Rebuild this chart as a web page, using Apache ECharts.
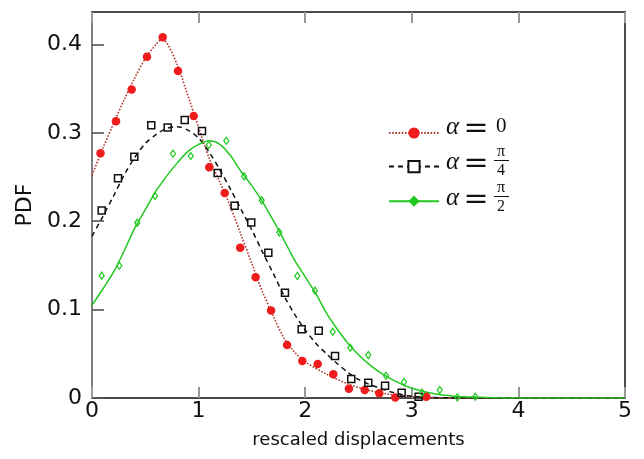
<!DOCTYPE html>
<html><head><meta charset="utf-8">
<script src="https://cdn.jsdelivr.net/npm/echarts@6/dist/echarts.min.js"></script>
<style>html,body{margin:0;padding:0;background:#fff}#c{width:644px;height:459px}</style>
</head><body><div id="c"></div>
<script>
// ---- data ----
const xTicks = [0, 1, 2, 3, 4, 5];
const yTicks = [0, 0.1, 0.2, 0.3, 0.4];

// simulation points
const redX = [0.08,0.225,0.372,0.516,0.663,0.807,0.954,1.10,1.245,1.39,1.535,1.68,1.83,1.973,2.117,2.264,2.41,2.558,2.695,2.845,3.136];
const redY = [0.277,0.313,0.349,0.386,0.408,0.370,0.319,0.261,0.232,0.170,0.1365,0.099,0.060,0.042,0.0385,0.027,0.0106,0.009,0.0053,0.0006,0.0015];

const blackX = [0.091,0.244,0.397,0.556,0.71,0.87,1.032,1.179,1.338,1.494,1.654,1.81,1.967,2.127,2.28,2.432,2.592,2.749,2.905,3.064];
const blackY = [0.212,0.2485,0.273,0.3085,0.306,0.3145,0.302,0.2545,0.2175,0.1986,0.1644,0.119,0.0777,0.0761,0.0475,0.0215,0.0173,0.0139,0.006,0.0015];

const greenX = [0.091,0.256,0.425,0.591,0.76,0.926,1.095,1.26,1.426,1.592,1.757,1.926,2.092,2.258,2.423,2.592,2.758,2.927,3.096,3.262,3.427,3.596];
const greenY = [0.1384,0.1497,0.1984,0.2285,0.2764,0.2738,0.2862,0.291,0.2508,0.2236,0.1874,0.138,0.1214,0.075,0.0569,0.0486,0.0252,0.0181,0.006,0.009,0.0008,0.0015];

// fitted curves
const redCurveX = [0,0.1,0.2,0.3,0.4,0.5,0.6,0.65,0.7,0.8,0.9,1.0,1.1,1.2,1.3,1.4,1.5,1.6,1.7,1.8,1.9,2.0,2.2,2.4,2.6,2.8,3.0,3.2,3.5,4,5];
const redCurveY = [0.252,0.282,0.310,0.337,0.362,0.384,0.400,0.405,0.402,0.377,0.342,0.306,0.271,0.244,0.216,0.184,0.152,0.120,0.093,0.068,0.052,0.041,0.027,0.016,0.0085,0.004,0.0015,0.0004,0,0,0];

const blackCurveX = [0,0.1,0.2,0.3,0.4,0.5,0.6,0.7,0.8,0.9,1.0,1.1,1.2,1.3,1.4,1.5,1.6,1.7,1.8,1.9,2.0,2.1,2.2,2.3,2.4,2.5,2.6,2.7,2.8,2.9,3.0,3.2,3.5,4,5];
const blackCurveY = [0.183,0.205,0.228,0.252,0.272,0.288,0.298,0.305,0.307,0.303,0.294,0.278,0.258,0.236,0.213,0.190,0.165,0.141,0.116,0.095,0.077,0.062,0.050,0.039,0.029,0.021,0.0155,0.011,0.007,0.004,0.002,0.0006,0,0,0];

const greenCurveX = [0,0.1,0.2,0.3,0.4,0.5,0.6,0.7,0.8,0.9,1.0,1.1,1.2,1.3,1.4,1.5,1.6,1.7,1.8,1.9,2.0,2.1,2.2,2.3,2.4,2.5,2.6,2.7,2.8,2.9,3.0,3.2,3.4,3.6,3.8,4.0,5.0];
const greenCurveY = [0.105,0.123,0.142,0.166,0.192,0.213,0.234,0.251,0.266,0.279,0.287,0.291,0.287,0.274,0.256,0.240,0.222,0.201,0.179,0.156,0.137,0.118,0.096,0.078,0.062,0.049,0.038,0.029,0.022,0.016,0.011,0.005,0.002,0.001,0.0003,0,0];

const seriesNames = ['a0', 'a4', 'a2'];

function pairs(xs, ys) { return xs.map((x, i) => [x, ys[i]]); }

const chart = echarts.init(document.getElementById('c'), null, {renderer: 'canvas'});
const RED = '#ee1c1c', REDLINE = '#b03a2e', GREEN = '#22c922';
const tickFont = {fontFamily: 'DejaVu Sans', fontSize: 22, color: '#111'};

const option = {
  animation: false,
  backgroundColor: '#fff',
  grid: {left: 92, right: 19, top: 12, bottom: 61},
  xAxis: [{
    type: 'value', min: 0, max: 5, interval: 1, position: 'bottom',
    axisLine: {show: true, onZero: false, lineStyle: {color: '#111', width: 1.5}},
    axisTick: {show: true, inside: true, length: 11, lineStyle: {color: '#999', width: 2}},
    axisLabel: Object.assign({margin: 2, formatter: v => xTicks.includes(v) ? String(v) : ''}, tickFont),
    splitLine: {show: false},
    name: 'rescaled displacements', nameLocation: 'middle', nameGap: 33,
    nameTextStyle: {fontFamily: 'DejaVu Sans', fontSize: 18, color: '#111'}
  }, {
    type: 'value', min: 0, max: 5, interval: 1, position: 'top',
    axisLine: {show: true, onZero: false, lineStyle: {color: '#111', width: 1.5}},
    axisTick: {show: true, inside: true, length: 11, lineStyle: {color: '#999', width: 2}},
    axisLabel: {show: false}, splitLine: {show: false}
  }],
  yAxis: [{
    type: 'value', min: 0, max: 0.4367, interval: 0.1, position: 'left',
    axisLine: {show: true, onZero: false, lineStyle: {color: '#555', width: 1.5}},
    axisTick: {show: true, inside: true, length: 12, lineStyle: {color: '#555', width: 1.6}},
    axisLabel: Object.assign({margin: 10, showMaxLabel: false,
      formatter: v => { const r = Math.round(v * 10) / 10; return yTicks.includes(r) && Math.abs(v - r) < 1e-6 ? (r === 0 ? '0' : r.toFixed(1)) : ''; }}, tickFont),
    splitLine: {show: false},
    name: 'PDF', nameLocation: 'middle', nameGap: 54,
    nameTextStyle: {fontFamily: 'DejaVu Sans', fontSize: 22, color: '#111'}
  }, {
    type: 'value', min: 0, max: 0.4367, interval: 0.1, position: 'right',
    axisLine: {show: true, onZero: false, lineStyle: {color: '#111', width: 1.5}},
    axisTick: {show: false}, axisLabel: {show: false}, splitLine: {show: false}
  }],
  legend: {
    orient: 'vertical', left: 383, top: 121, itemWidth: 50, itemHeight: 14, itemGap: 21,
    data: seriesNames, formatter: () => '', textStyle: {fontSize: 12}, selectedMode: false
  },
  series: [
    {name: 'a0', type: 'line', data: pairs(redCurveX, redCurveY), smooth: 0.3, symbol: 'circle', showSymbol: false,
     lineStyle: {color: REDLINE, width: 1.6, type: [1.6, 1.6]}, itemStyle: {color: RED}, z: 3},
    {name: 'a4', type: 'line', data: pairs(blackCurveX, blackCurveY), smooth: 0.3, symbol: 'rect', showSymbol: false,
     lineStyle: {color: '#111', width: 1.5, type: [5, 4]}, itemStyle: {color: '#fff', borderColor: '#111', borderWidth: 1.5}, z: 3},
    {name: 'a2', type: 'line', data: pairs(greenCurveX, greenCurveY), smooth: 0.3, symbol: 'diamond', showSymbol: false,
     lineStyle: {color: GREEN, width: 1.5, type: 'solid'}, itemStyle: {color: GREEN}, z: 3},
    {name: 'a0', type: 'scatter', data: pairs(redX, redY), symbol: 'circle', symbolSize: 8.5,
     itemStyle: {color: RED, opacity: 1}, z: 4},
    {name: 'a4', type: 'scatter', data: pairs(blackX, blackY), symbol: 'rect', symbolSize: 7,
     itemStyle: {color: 'rgba(255,255,255,0)', borderColor: '#111', borderWidth: 1.5, opacity: 1}, z: 4},
    {name: 'a2', type: 'scatter', data: pairs(greenX, greenY), symbol: 'diamond', symbolSize: [5, 7],
     itemStyle: {color: 'rgba(255,255,255,0)', borderColor: GREEN, borderWidth: 1.3, opacity: 1}, z: 4}
  ],
  graphic: [
    // legend labels (TeX style)
    {type: 'text', left: 446, top: 115, style: {text: 'α', font: 'italic 25px "Liberation Serif"', fill: '#111'}},
    {type: 'text', x: 476, y: 129, style: {text: '=', font: '30px "DejaVu Serif"', fill: '#111', align: 'center', verticalAlign: 'middle'}},
    {type: 'text', left: 496, top: 116, style: {text: '0', font: '21px "Liberation Serif"', fill: '#111'}},

    {type: 'text', left: 446, top: 150, style: {text: 'α', font: 'italic 25px "Liberation Serif"', fill: '#111'}},
    {type: 'text', x: 476, y: 164, style: {text: '=', font: '30px "DejaVu Serif"', fill: '#111', align: 'center', verticalAlign: 'middle'}},
    {type: 'text', x: 501, y: 152, style: {text: 'π', font: '16px "Liberation Serif"', fill: '#111', align: 'center', verticalAlign: 'middle'}},
    {type: 'line', shape: {x1: 494, y1: 160.5, x2: 509, y2: 160.5}, style: {stroke: '#111', lineWidth: 1}},
    {type: 'text', x: 501, y: 171, style: {text: '4', font: '16px "Liberation Serif"', fill: '#111', align: 'center', verticalAlign: 'middle'}},

    {type: 'text', left: 446, top: 186, style: {text: 'α', font: 'italic 25px "Liberation Serif"', fill: '#111'}},
    {type: 'text', x: 476, y: 200, style: {text: '=', font: '30px "DejaVu Serif"', fill: '#111', align: 'center', verticalAlign: 'middle'}},
    {type: 'text', x: 501, y: 188, style: {text: 'π', font: '16px "Liberation Serif"', fill: '#111', align: 'center', verticalAlign: 'middle'}},
    {type: 'line', shape: {x1: 494, y1: 196.5, x2: 509, y2: 196.5}, style: {stroke: '#111', lineWidth: 1}},
    {type: 'text', x: 501, y: 207, style: {text: '2', font: '16px "Liberation Serif"', fill: '#111', align: 'center', verticalAlign: 'middle'}}
  ]
};
chart.setOption(option);
</script>
</body></html>
